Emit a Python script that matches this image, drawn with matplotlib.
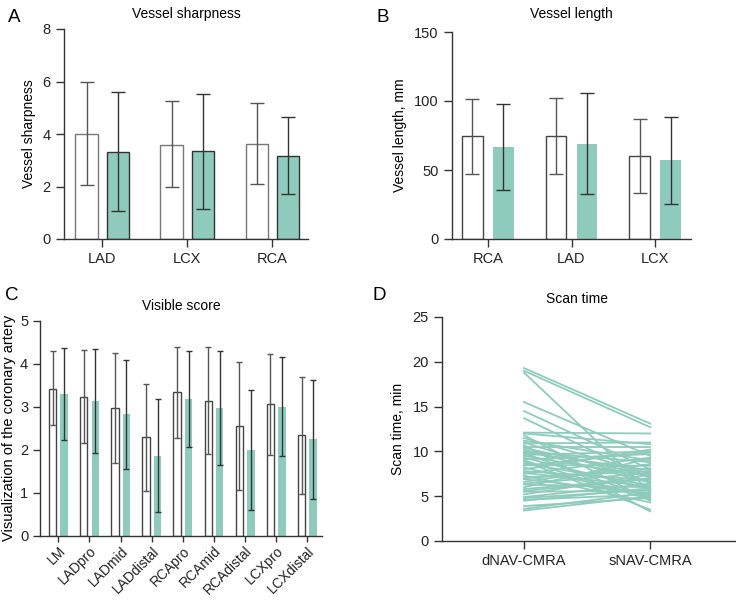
import matplotlib.pyplot as plt
import numpy as np

plt.rcParams['font.family'] = ['Liberation Sans', 'DejaVu Sans']

green = "#8ecbbc"

# Panel A - vessel sharpness
a_cats = ["LAD", "LCX", "RCA"]
a_white = [4.01, 3.60, 3.63]
a_white_lo = [2.04, 1.97, 2.08]
a_white_hi = [6.00, 5.24, 5.18]
a_green = [3.32, 3.34, 3.18]
a_green_lo = [1.07, 1.15, 1.73]
a_green_hi = [5.59, 5.52, 4.65]

# Panel B - vessel length
b_cats = ["RCA", "LAD", "LCX"]
b_white = [74.4, 74.6, 60.1]
b_white_lo = [46.8, 46.8, 33.2]
b_white_hi = [101.8, 102.5, 86.7]
b_green = [66.6, 69.1, 56.9]
b_green_lo = [35.6, 32.7, 25.4]
b_green_hi = [98.1, 105.6, 88.7]

# Panel C - visible score
c_cats = ["LM", "LADpro", "LADmid", "LADdistal", "RCApro", "RCAmid",
          "RCAdistal", "LCXpro", "LCXdistal"]
c_white = [3.42, 3.24, 2.98, 2.29, 3.34, 3.14, 2.56, 3.06, 2.34]
c_white_lo = [2.57, 2.16, 1.69, 1.04, 2.27, 1.89, 1.05, 1.88, 0.96]
c_white_hi = [4.29, 4.32, 4.25, 3.52, 4.40, 4.39, 4.04, 4.23, 3.70]
c_green = [3.30, 3.14, 2.83, 1.86, 3.18, 2.97, 1.99, 3.00, 2.26]
c_green_lo = [2.23, 1.92, 1.54, 0.54, 2.06, 1.64, 0.59, 1.85, 0.86]
c_green_hi = [4.37, 4.35, 4.10, 3.18, 4.31, 4.31, 3.38, 4.16, 3.63]

# Panel D - scan time (paired)
d_cats = ["dNAV-CMRA", "sNAV-CMRA"]
d_dnav = [19.3, 19.0, 18.8, 15.5, 14.5, 13.7, 12.1, 12.0, 11.8, 11.5, 11.2,
          10.9, 10.7, 10.5, 10.2, 10.0, 9.8, 9.6, 9.5, 9.3, 9.1, 8.9, 8.7,
          8.5, 8.2, 8.0, 7.8, 7.5, 7.3, 7.1, 6.9, 6.6, 6.3, 6.0, 5.8, 5.5,
          5.2, 4.9, 4.6, 4.5, 3.9, 3.6, 3.4,
          11.0, 9.9, 9.0, 8.4, 7.6, 7.0, 6.4, 5.6, 4.8, 10.4]
d_snav = [13.1, 12.7, 5.5, 9.5, 8.0, 7.0, 12.0, 10.8, 4.5, 7.5, 9.0,
          11.0, 3.3, 10.5, 6.5, 8.8, 4.8, 10.0, 7.2, 5.8, 9.7, 3.5, 6.2,
          8.4, 5.0, 10.2, 6.8, 9.3, 4.3, 7.8, 5.3, 8.6, 6.0, 9.2, 7.0, 5.6,
          7.4, 6.4, 5.2, 5.9, 4.8, 5.4, 5.0,
          6.6, 7.9, 4.6, 9.9, 6.1, 8.1, 7.6, 6.9, 5.7, 7.3]

W, H = 736, 601
fig = plt.figure(figsize=(W / 100, H / 100), dpi=100)


def box(l, t, r, b):
    return [l / W, 1 - b / H, (r - l) / W, (b - t) / H]


def style(ax):
    for s in ["top", "right"]:
        ax.spines[s].set_visible(False)
    for s in ["left", "bottom"]:
        ax.spines[s].set_color("#333333")
        ax.spines[s].set_linewidth(1.0)
    ax.tick_params(colors="#333333", labelcolor="#222222", labelsize=10.5,
                   length=6, width=1.0)


def bars(ax, cats, w, wlo, whi, g, glo, ghi, off, bw, gedge, wedge, cap):
    x = np.arange(len(cats))
    w = np.array(w); g = np.array(g)
    ax.bar(x - off, w, bw, color="white", edgecolor=wedge, linewidth=1.0, zorder=2)
    ax.bar(x + off, g, bw, color=green, edgecolor=gedge,
           linewidth=1.0 if gedge != "none" else 0, zorder=2)
    ax.errorbar(x - off, w, yerr=[w - np.array(wlo), np.array(whi) - w], fmt="none",
                ecolor="#555555", elinewidth=1.0, capsize=cap, capthick=1.0, zorder=3)
    ax.errorbar(x + off, g, yerr=[g - np.array(glo), np.array(ghi) - g], fmt="none",
                ecolor="#333333", elinewidth=1.0, capsize=cap, capthick=1.0, zorder=3)
    ax.set_xticks(x)


# A
axA = fig.add_axes(box(64, 29, 308, 239))
style(axA)
bars(axA, a_cats, a_white, a_white_lo, a_white_hi, a_green, a_green_lo, a_green_hi,
     0.185, 0.26, "#333333", "#777777", 5)
axA.set_xticklabels(a_cats)
axA.set_xlim(-0.45, 2.42)
axA.set_ylim(0, 8)
axA.set_yticks([0, 2, 4, 6, 8])
axA.set_ylabel("Vessel sharpness", fontsize=10, labelpad=5)
axA.set_title("Vessel sharpness", fontsize=10, pad=8)
fig.text(8 / W, 1 - 18 / H, "A", fontsize=13.5, va="center")

# B
axB = fig.add_axes(box(452, 32, 691, 239))
style(axB)
bars(axB, b_cats, b_white, b_white_lo, b_white_hi, b_green, b_green_lo, b_green_hi,
     0.185, 0.25, "none", "#444444", 5)
axB.set_xticklabels(b_cats)
axB.set_xlim(-0.43, 2.43)
axB.set_ylim(0, 150)
axB.set_yticks([0, 50, 100, 150])
axB.set_ylabel("Vessel length, mm", fontsize=10, labelpad=5)
axB.set_title("Vessel length", fontsize=10, pad=10)
fig.text(376 / W, 1 - 18 / H, "B", fontsize=13.5, va="center")

# C
axC = fig.add_axes(box(40, 321, 322, 535.5))
style(axC)
axC.tick_params(axis="y", length=5)
axC.tick_params(axis="x", length=4, pad=2, labelsize=10)
bars(axC, c_cats, c_white, c_white_lo, c_white_hi, c_green, c_green_lo, c_green_hi,
     0.185, 0.24, "none", "#444444", 2)
axC.set_xticklabels(c_cats, rotation=45, ha="right", rotation_mode="anchor")
axC.set_xlim(-0.59, 8.47)
axC.set_ylim(0, 5)
axC.set_yticks([0, 1, 2, 3, 4, 5])
axC.set_ylabel("Visualization of the coronary artery", fontsize=10.5, labelpad=3)
axC.set_title("Visible score", fontsize=10, pad=8)
fig.text(5 / W, 1 - 296 / H, "C", fontsize=13.5, va="center")

# D
axD = fig.add_axes(box(442, 317, 736, 541))
style(axD)
for a, b in zip(d_dnav, d_snav):
    axD.plot([0, 1], [a, b], color=green, linewidth=1.3)
axD.set_xticks([0, 1])
axD.set_xticklabels(d_cats)
axD.set_xlim(-0.65, 1.68)
axD.set_ylim(0, 25)
axD.set_yticks([0, 5, 10, 15, 20, 25])
axD.set_ylabel("Scan time, min", fontsize=10, labelpad=5)
axD.set_title("Scan time", fontsize=10, pad=10, x=0.46)
fig.text(372 / W, 1 - 296 / H, "D", fontsize=13.5, va="center")

fig.savefig("out.png", dpi=100)
